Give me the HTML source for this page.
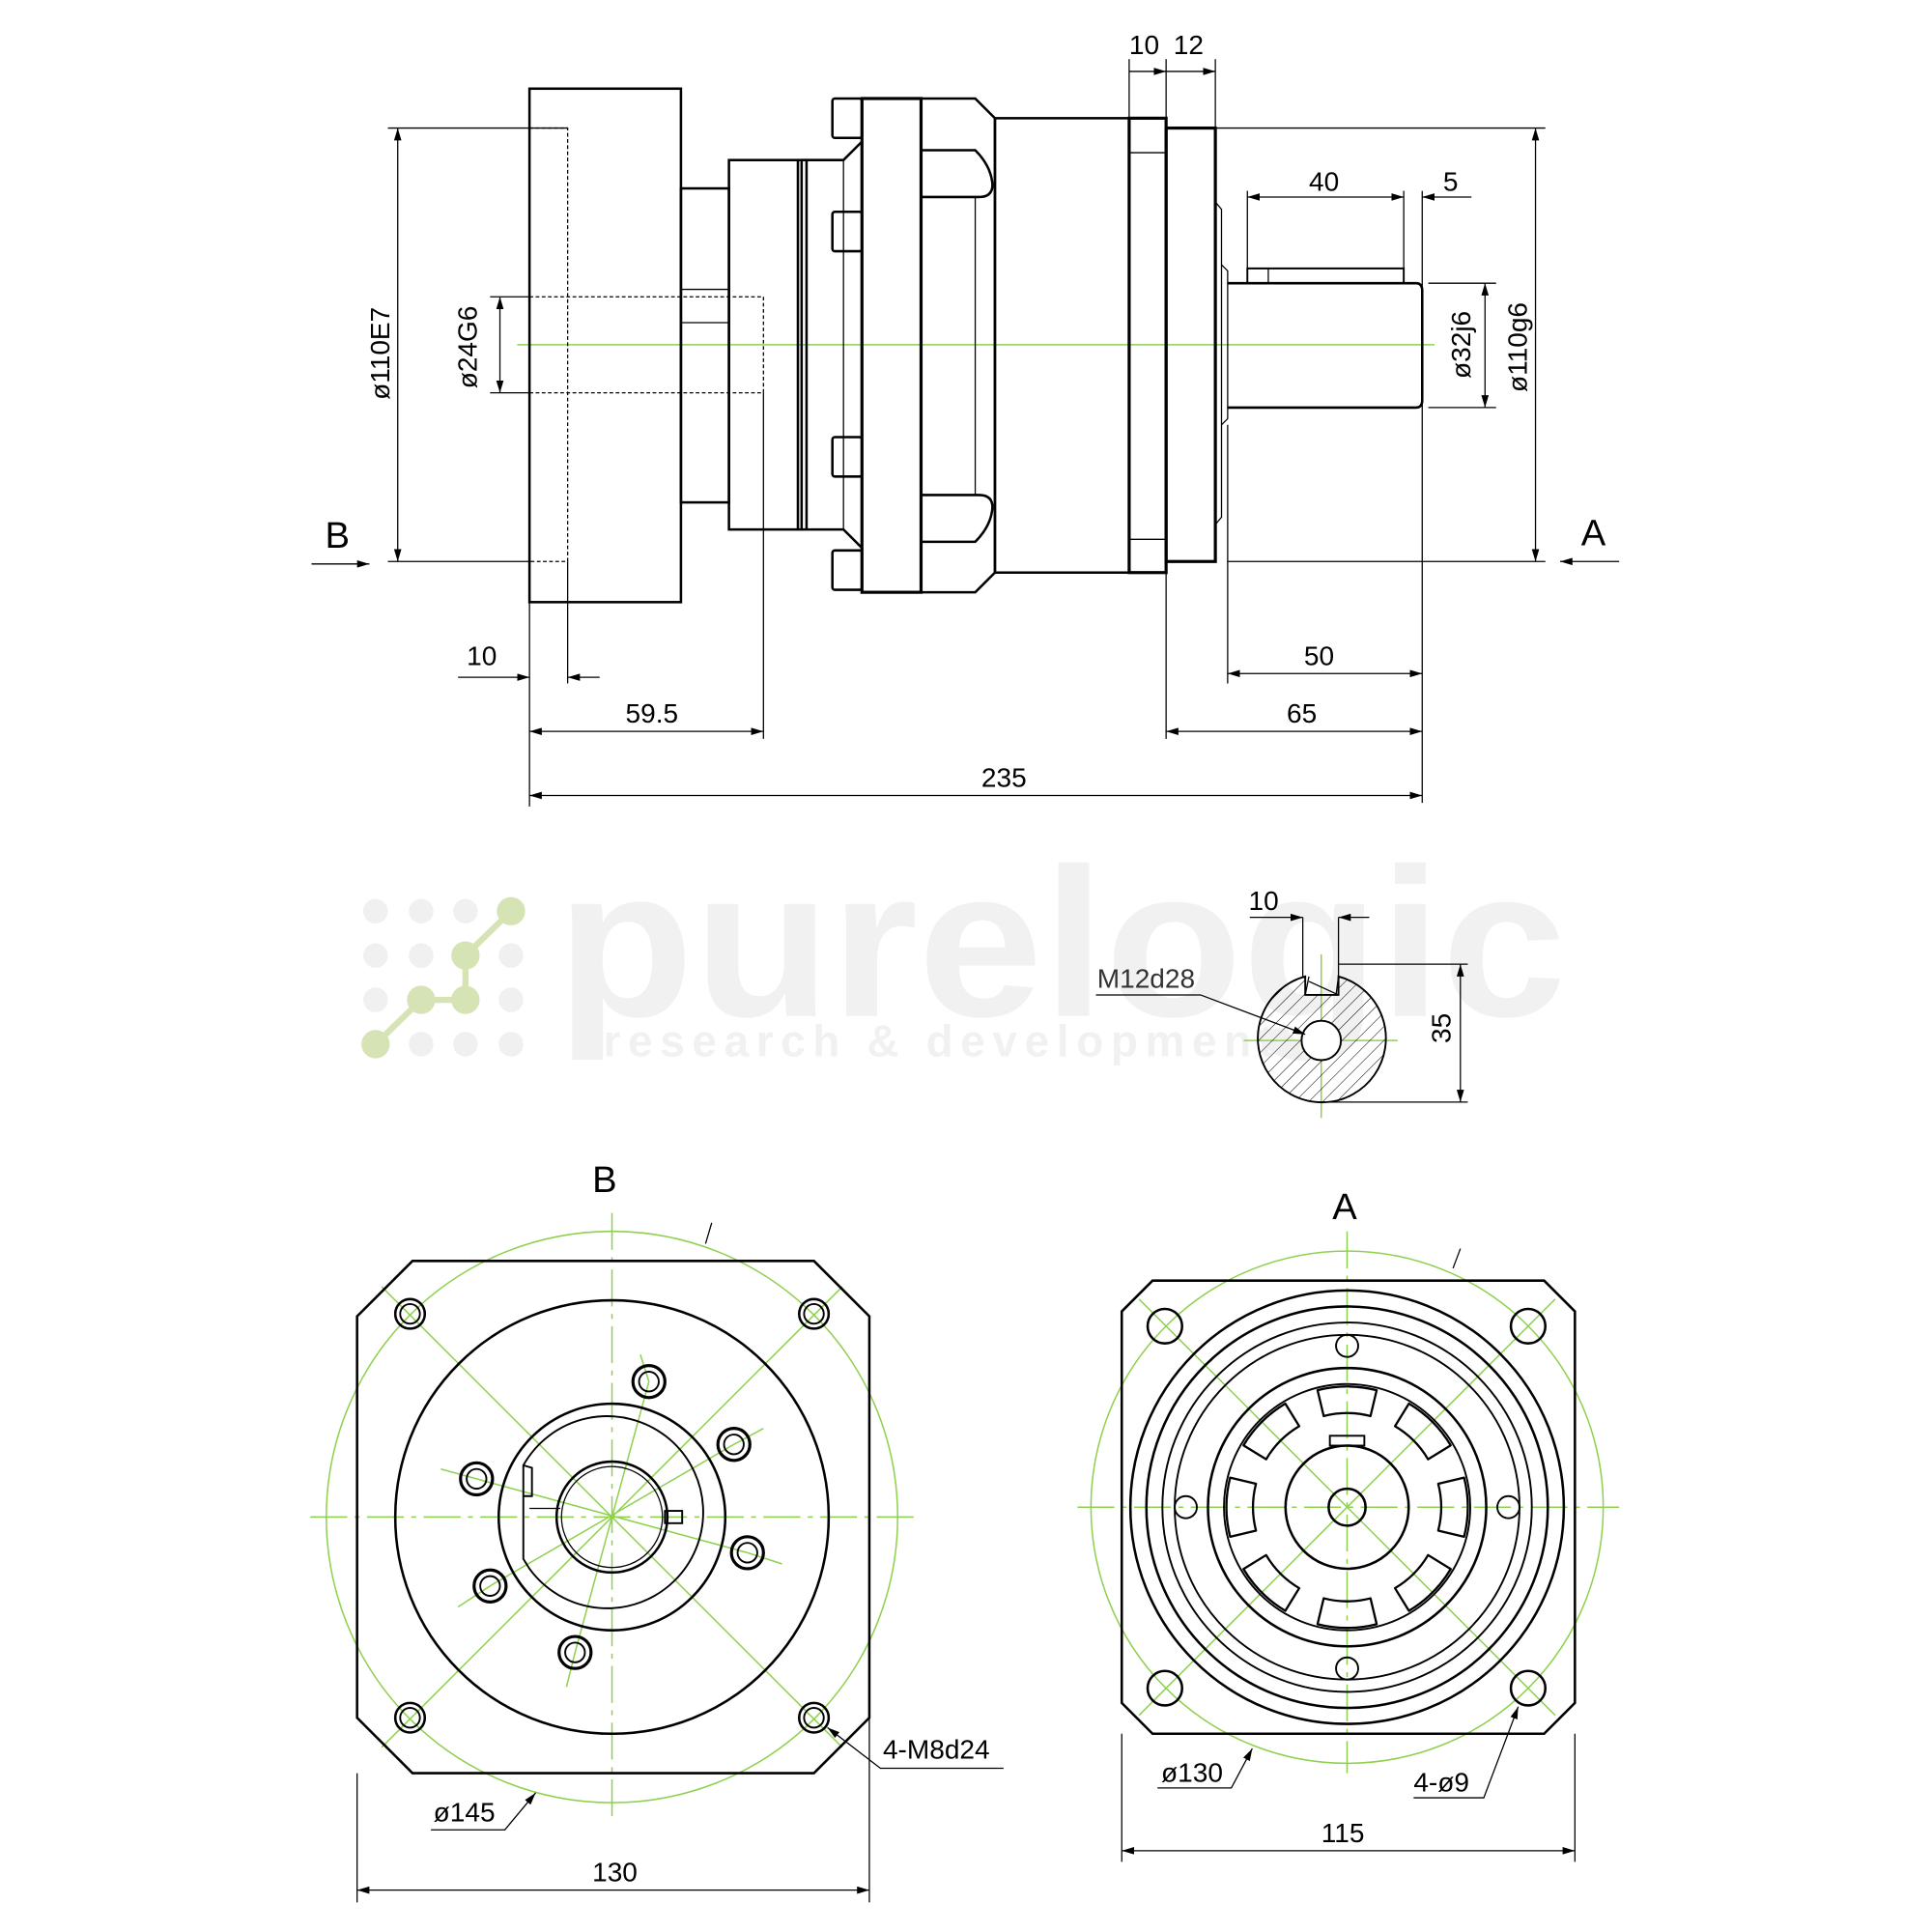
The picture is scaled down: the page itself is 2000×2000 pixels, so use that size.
<!DOCTYPE html>
<html><head><meta charset="utf-8"><style>html,body{margin:0;padding:0;background:#fff}svg{display:block}</style></head><body>
<svg width="2000" height="2000" viewBox="0 0 1569 1569" xmlns="http://www.w3.org/2000/svg" font-family="Liberation Sans, sans-serif">
<defs>
<marker id="a" viewBox="0 0 10 6" refX="10" refY="3" markerWidth="10" markerHeight="6" orient="auto-start-reverse" markerUnits="userSpaceOnUse"><path d="M0,0L10,3L0,6z" fill="#000"/></marker>
<pattern id="h" width="8" height="8" patternUnits="userSpaceOnUse" patternTransform="rotate(45)"><line x1="0" y1="0" x2="0" y2="8" stroke="#000" stroke-width="0.8"/></pattern>
</defs>
<!-- watermark -->
<g>
<text x="452" y="825" font-size="172" font-weight="bold" fill="#f1f1f1" textLength="820" lengthAdjust="spacingAndGlyphs">purelogic</text>
<text x="490" y="858" font-size="36" font-weight="bold" fill="#f1f1f1" letter-spacing="6">research &amp; development</text>
<g fill="#f0f0f0"><circle cx="305" cy="740" r="10"/><circle cx="342" cy="740" r="10"/><circle cx="378" cy="740" r="10"/><circle cx="305" cy="776" r="10"/><circle cx="342" cy="776" r="10"/><circle cx="415" cy="776" r="10"/><circle cx="305" cy="812" r="10"/><circle cx="415" cy="812" r="10"/><circle cx="342" cy="848" r="10"/><circle cx="378" cy="848" r="10"/><circle cx="415" cy="848" r="10"/></g>
<g stroke="#d6e3b4" stroke-width="5" fill="#d6e3b4"><polyline points="305,848 342,812 378,812 378,776 415,740" fill="none"/><circle cx="305" cy="848" r="9"/><circle cx="342" cy="812" r="9"/><circle cx="378" cy="812" r="9"/><circle cx="378" cy="776" r="9"/><circle cx="415" cy="740" r="9"/></g>
</g>
<!-- green centerlines -->
<g stroke="#8fd14f" stroke-width="1.2" fill="none">
<line x1="420" y1="280" x2="1165" y2="280"/>
<circle cx="497" cy="1232" r="232"/>
<line x1="252" y1="1232" x2="742" y2="1232" stroke-dasharray="30,6,4,6"/>
<line x1="497" y1="985" x2="497" y2="1480" stroke-dasharray="30,6,4,6"/>
<line x1="310" y1="1045" x2="684" y2="1419"/><line x1="684" y1="1045" x2="310" y2="1419"/>
<line x1="527" y1="1122" x2="467" y2="1342"/><line x1="596" y1="1173" x2="398" y2="1288"/><line x1="607" y1="1261" x2="387" y2="1201"/>
<line x1="527" y1="1122" x2="520" y2="1100"/><line x1="596" y1="1173" x2="620" y2="1160"/><line x1="607" y1="1261" x2="635" y2="1270"/><line x1="467" y1="1342" x2="460" y2="1370"/><line x1="398" y1="1288" x2="372" y2="1305"/><line x1="387" y1="1201" x2="358" y2="1193"/>
<circle cx="1094" cy="1224" r="208"/>
<line x1="875" y1="1224" x2="1315" y2="1224" stroke-dasharray="30,6,4,6"/>
<line x1="1094" y1="1000" x2="1094" y2="1440" stroke-dasharray="30,6,4,6"/>
<line x1="925" y1="1055" x2="1263" y2="1393"/><line x1="1263" y1="1055" x2="925" y2="1393"/>
<line x1="1073" y1="775" x2="1073" y2="908"/><line x1="1010" y1="845" x2="1135" y2="845"/>
</g>
<!-- top view -->
<g stroke="#000" stroke-width="2" fill="none">
<rect x="430" y="72" width="123" height="417"/>
<rect x="553" y="153" width="39" height="255"/>
<line x1="553" y1="235" x2="592" y2="235" stroke-width="1"/><line x1="553" y1="262" x2="592" y2="262" stroke-width="1"/>
<rect x="592" y="130" width="59" height="300"/>
<line x1="648" y1="130" x2="648" y2="430"/><line x1="655" y1="130" x2="655" y2="430"/>
<path d="M651,130 H685 L700,115 M651,430 H685 L700,445"/>
<line x1="685" y1="130" x2="685" y2="430" stroke-width="1"/>
<rect x="676" y="80" width="24" height="32" rx="2"/><rect x="676" y="172" width="24" height="32" rx="2"/>
<rect x="676" y="355" width="24" height="32" rx="2"/><rect x="676" y="447" width="24" height="32" rx="2"/>
<rect x="700" y="80" width="48" height="401" stroke-width="2.5"/>
<path d="M748,80 H792 L808,96 V465 L792,481 H748 Z"/>
<path d="M748,122 H792 Q805,135 806,150 Q806,160 795,160 H748"/>
<path d="M748,440 H792 Q805,427 806,412 Q806,402 795,402 H748"/>
<line x1="792" y1="160" x2="792" y2="402" stroke-width="1"/>
<rect x="808" y="96" width="109" height="369"/>
<rect x="917" y="96" width="30" height="369" stroke-width="2.5"/>
<line x1="917" y1="124" x2="947" y2="124" stroke-width="1"/><line x1="917" y1="438" x2="947" y2="438" stroke-width="1"/>
<rect x="947" y="104" width="40" height="352" stroke-width="2.5"/>
<path d="M987,164 L992,170 V420 L987,426" stroke-width="1"/>
<path d="M992,215 L997,220 V340 L992,345" stroke-width="1"/>
<path d="M997,230 H1150 Q1155,230 1155,236 V325 Q1155,331 1150,331 H997"/>
<path d="M1013,230 V218 H1140 V230" stroke-width="1.5"/>
<line x1="1030" y1="218" x2="1030" y2="230" stroke-width="1"/>
</g>
<g stroke="#000" stroke-width="1" fill="none" stroke-dasharray="3,2">
<path d="M430,104 H461 V456 H430"/>
<path d="M430,241 H620 V319 H430"/>
</g>
<!-- dimensions top -->
<g stroke="#000" stroke-width="1" fill="none">
<line x1="315" y1="104" x2="461" y2="104"/><line x1="315" y1="456" x2="430" y2="456"/>
<line x1="323" y1="104" x2="323" y2="456" marker-start="url(#a)" marker-end="url(#a)"/>
<line x1="398" y1="241" x2="430" y2="241"/><line x1="398" y1="319" x2="430" y2="319"/>
<line x1="406" y1="241" x2="406" y2="319" marker-start="url(#a)" marker-end="url(#a)"/>
<line x1="253" y1="458" x2="300" y2="458" marker-end="url(#a)"/>
<line x1="1267" y1="456" x2="1315" y2="456" marker-start="url(#a)"/>
<line x1="987" y1="104" x2="1255" y2="104"/><line x1="997" y1="456" x2="1255" y2="456"/>
<line x1="1247" y1="104" x2="1247" y2="456" marker-start="url(#a)" marker-end="url(#a)"/>
<line x1="1160" y1="230" x2="1215" y2="230"/><line x1="1160" y1="331" x2="1215" y2="331"/>
<line x1="1206" y1="230" x2="1206" y2="331" marker-start="url(#a)" marker-end="url(#a)"/>
<line x1="917" y1="48" x2="917" y2="96"/><line x1="947" y1="48" x2="947" y2="96"/><line x1="987" y1="48" x2="987" y2="104"/>
<line x1="917" y1="58" x2="947" y2="58" marker-end="url(#a)"/><line x1="947" y1="58" x2="987" y2="58" marker-end="url(#a)"/>
<line x1="1013" y1="155" x2="1013" y2="218"/><line x1="1140" y1="155" x2="1140" y2="218"/><line x1="1155" y1="155" x2="1155" y2="652"/>
<line x1="1013" y1="160" x2="1140" y2="160" marker-start="url(#a)" marker-end="url(#a)"/>
<line x1="1155" y1="160" x2="1195" y2="160" marker-start="url(#a)"/>
<line x1="430" y1="489" x2="430" y2="655"/><line x1="461" y1="456" x2="461" y2="555"/><line x1="620" y1="319" x2="620" y2="600"/>
<line x1="372" y1="550" x2="430" y2="550" marker-end="url(#a)"/><line x1="461" y1="550" x2="487" y2="550" marker-start="url(#a)"/>
<line x1="430" y1="594" x2="620" y2="594" marker-start="url(#a)" marker-end="url(#a)"/>
<line x1="430" y1="646" x2="1155" y2="646" marker-start="url(#a)" marker-end="url(#a)"/>
<line x1="997" y1="345" x2="997" y2="555"/><line x1="947" y1="456" x2="947" y2="600"/>
<line x1="997" y1="547" x2="1155" y2="547" marker-start="url(#a)" marker-end="url(#a)"/>
<line x1="947" y1="594" x2="1155" y2="594" marker-start="url(#a)" marker-end="url(#a)"/>
</g>
<g font-size="22" fill="#000">
<text x="264" y="445" font-size="30">B</text><text x="1284" y="443" font-size="30">A</text>
<text transform="translate(316,287) rotate(-90)" text-anchor="middle">ø110E7</text>
<text transform="translate(387,282) rotate(-90)" text-anchor="middle">ø24G6</text>
<text transform="translate(1194,280) rotate(-90)" text-anchor="middle">ø32j6</text>
<text transform="translate(1240,282) rotate(-90)" text-anchor="middle">ø110g6</text>
<text x="917" y="44">10</text><text x="953" y="44">12</text>
<text x="1063" y="155">40</text><text x="1172" y="155">5</text>
<text x="379" y="540">10</text><text x="508" y="587">59.5</text><text x="797" y="639">235</text>
<text x="1059" y="540">50</text><text x="1045" y="587">65</text>
</g>
<!-- key section -->
<g stroke="#000" fill="none" stroke-width="1">
<path d="M1060,793 A52,52 0 1 0 1087,793 V808 H1060 Z" fill="url(#h)" stroke-width="1.5"/>
<circle cx="1073" cy="845" r="16" fill="#fff" stroke-width="1.5"/>
<path d="M1063,793 L1060,808 M1087,793 L1085,808 M1063,797 L1087,808"/>
<line x1="1058" y1="745" x2="1058" y2="793"/><line x1="1087" y1="745" x2="1087" y2="793"/>
<line x1="1015" y1="745" x2="1058" y2="745" marker-end="url(#a)"/><line x1="1087" y1="745" x2="1112" y2="745" marker-start="url(#a)"/>
<line x1="1087" y1="783" x2="1192" y2="783"/><line x1="1073" y1="895" x2="1192" y2="895"/>
<line x1="1186" y1="783" x2="1186" y2="895" marker-start="url(#a)" marker-end="url(#a)"/>
<path d="M890,808 H975 L1060,840" marker-end="url(#a)"/>
</g>
<g font-size="22" fill="#000"><text x="1014" y="739">10</text><text x="891" y="802" fill="#333">M12d28</text>
<text transform="translate(1178,835) rotate(-90)" text-anchor="middle">35</text></g>
<!-- view B -->
<g stroke="#000" stroke-width="2" fill="none">
<path d="M335,1024 H661 L706,1069 V1395 L661,1440 H335 L290,1395 V1069 Z"/>
<circle cx="497" cy="1232" r="176"/>
<circle cx="497" cy="1232" r="92"/>
<path d="M425,1190 A78,78 0 1 1 430,1274 L425,1266 Z" stroke-width="1.5"/>
<circle cx="497" cy="1232" r="45"/>
<circle cx="497" cy="1232" r="41" stroke-width="1"/>
<rect x="540" y="1227" width="14" height="10" stroke-width="1.5"/>
<path d="M425,1190 L432,1192 V1215 L425,1215" stroke-width="1.5"/>
<line x1="430" y1="1225" x2="455" y2="1225" stroke-width="1"/>
<g stroke-width="2"><circle cx="333" cy="1067" r="12"/><circle cx="661" cy="1067" r="12"/><circle cx="333" cy="1395" r="12"/><circle cx="661" cy="1395" r="12"/></g>
<g stroke-width="1.5"><circle cx="333" cy="1067" r="8"/><circle cx="661" cy="1067" r="8"/><circle cx="333" cy="1395" r="8"/><circle cx="661" cy="1395" r="8"/></g>
<g stroke-width="2.5"><circle cx="527" cy="1122" r="13"/><circle cx="596" cy="1173" r="13"/><circle cx="607" cy="1261" r="13"/><circle cx="467" cy="1342" r="13"/><circle cx="398" cy="1288" r="13"/><circle cx="387" cy="1201" r="13"/></g>
<g stroke-width="1.5"><circle cx="527" cy="1122" r="8"/><circle cx="596" cy="1173" r="8"/><circle cx="607" cy="1261" r="8"/><circle cx="467" cy="1342" r="8"/><circle cx="398" cy="1288" r="8"/><circle cx="387" cy="1201" r="8"/></g>
</g>
<g stroke="#000" stroke-width="1" fill="none">
<line x1="290" y1="1440" x2="290" y2="1545"/><line x1="706" y1="1395" x2="706" y2="1545"/>
<line x1="290" y1="1535" x2="706" y2="1535" marker-start="url(#a)" marker-end="url(#a)"/>
<path d="M350,1486 H410 L435,1456" marker-end="url(#a)"/>
<path d="M815,1436 H715 L672,1403" marker-end="url(#a)"/>
<line x1="573" y1="1010" x2="578" y2="993"/>
</g>
<g font-size="22" fill="#000"><text x="481" y="968" font-size="30">B</text><text x="352" y="1479">ø145</text><text x="717" y="1428">4-M8d24</text><text x="481" y="1528">130</text></g>
<!-- view A -->
<g stroke="#000" stroke-width="2" fill="none">
<path d="M936,1040 H1254 L1279,1065 V1383 L1254,1408 H936 L911,1383 V1065 Z"/>
<circle cx="1094" cy="1224" r="176"/><circle cx="1094" cy="1224" r="163"/>
<circle cx="1094" cy="1224" r="150" stroke-width="1.5"/><circle cx="1094" cy="1224" r="140" stroke-width="1.5"/>
<circle cx="1094" cy="1224" r="113"/><circle cx="1094" cy="1224" r="100" stroke-width="1.5"/>
<circle cx="1094" cy="1224" r="50"/><circle cx="1094" cy="1224" r="15"/>
<rect x="1080" y="1166" width="28" height="8" stroke-width="1.5"/>
<g stroke-width="2"><circle cx="946" cy="1077" r="14"/><circle cx="1241" cy="1077" r="14"/><circle cx="946" cy="1371" r="14"/><circle cx="1241" cy="1371" r="14"/></g>
<g stroke-width="1.5"><circle cx="1094" cy="1093" r="9"/><circle cx="963" cy="1224" r="9"/><circle cx="1225" cy="1224" r="9"/><circle cx="1094" cy="1355" r="9"/></g>
<g stroke-width="1.8">
<path id="s" d="M1070,1129 A98,98 0 0 1 1118,1129 L1113,1150 A76,76 0 0 0 1075,1150 Z" stroke-linejoin="round"/>
<use href="#s" transform="rotate(45 1094 1224)"/><use href="#s" transform="rotate(90 1094 1224)"/><use href="#s" transform="rotate(135 1094 1224)"/>
<use href="#s" transform="rotate(180 1094 1224)"/><use href="#s" transform="rotate(225 1094 1224)"/><use href="#s" transform="rotate(270 1094 1224)"/><use href="#s" transform="rotate(315 1094 1224)"/>
</g>
</g>
<g stroke="#000" stroke-width="1" fill="none">
<line x1="911" y1="1408" x2="911" y2="1512"/><line x1="1279" y1="1408" x2="1279" y2="1512"/>
<line x1="911" y1="1503" x2="1279" y2="1503" marker-start="url(#a)" marker-end="url(#a)"/>
<path d="M940,1452 H1000 L1017,1420" marker-end="url(#a)"/>
<path d="M1148,1460 H1205 L1233,1386" marker-end="url(#a)"/>
<line x1="1180" y1="1030" x2="1186" y2="1014"/>
</g>
<g font-size="22" fill="#000"><text x="1082" y="990" font-size="30">A</text><text x="943" y="1447">ø130</text><text x="1148" y="1455">4-ø9</text><text x="1073" y="1496">115</text></g>
</svg>
</body></html>
